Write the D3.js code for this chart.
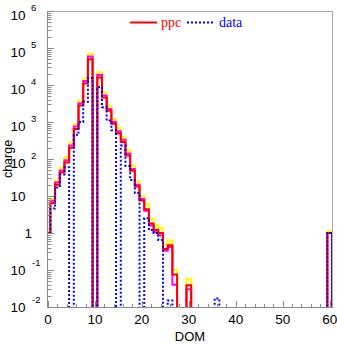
<!DOCTYPE html>
<html><head><meta charset="utf-8">
<script src="https://cdn.jsdelivr.net/npm/d3@7"></script>
<style>html,body{margin:0;padding:0;background:#fff;}svg{display:block;}</style>
</head><body>
<svg id="c" width="337" height="344"></svg>
<script>
// DOM bins 0..60 (bin i spans i-0.5 .. i+0.5); 0 = empty bin
const doms = d3.range(0, 61);
const ppcUpper = [1.1,8.5,26,58,110,270,880,3800,15000,70000,0,22000,6300,2700,1200,680,390,170,65,25,10,6,2.4,1.6,1.35,0.5,0.62,0.1,0,0,0.058,0,0,0,0,0,0,0,0,0,0,0,0,0,0,0,0,0,0,0,0,0,0,0,0,0,0,0,0,0,1.1];
const ppcAlt   = [1.0,7.4,23,49,92,230,750,3200,12800,59000,0,18500,5200,2250,1000,560,330,140,54,20,8.3,4.0,1.6,1.05,0.85,0.33,0.42,0.04,0,0,0.03,0,0,0,0,0,0,0,0,0,0,0,0,0,0,0,0,0,0,0,0,0,0,0,0,0,0,0,0,0,1.0];
const ppc      = [1.0,6.5,20,43,80,200,650,2800,11000,50000,0,16000,4600,2000,900,500,290,125,48,18,7.5,4.4,1.8,1.2,1.0,0.37,0.47,0.075,0,0,0.039,0,0,0,0,0,0,0,0,0,0,0,0,0,0,0,0,0,0,0,0,0,0,0,0,0,0,0,0,0,1.0];
const data     = [1.0,4.6,17,38,60,0,450,1000,3500,15500,0,8800,2500,1100,600,0,230,65,27,12,0,2.5,1.2,1.0,0.65,0,0.015,0,0,0,0,0,0,0,0,0,0.017,0,0,0,0,0,0,0,0,0,0,0,0,0,0,0,0,0,0,0,0,0,0,0,1.0];
const xTicks = [0,10,20,30,40,50,60];
const yExps = [-2,-1,0,1,2,3,4,5,6];

const svg = d3.select("#c");
const L = 48, R = 332, T = 11, B = 307;
const x = d3.scaleLinear().domain([0, 60.5]).range([L, R]);
const y = d3.scaleLog().domain([1e-2, 1e6]).range([B, T]);
const FLOOR = 1e-4;

svg.append("defs").append("clipPath").attr("id","clip")
  .append("rect").attr("x",L).attr("y",T).attr("width",R-L).attr("height",B-T);

function stepPath(vals){
  const p = d3.path();
  const yv = v => y(v > 0 ? v : FLOOR);
  p.moveTo(x(doms[0]-0.5), yv(FLOOR));
  doms.forEach((d,i)=>{
    p.lineTo(x(d-0.5), yv(vals[i]));
    p.lineTo(x(d+0.5), yv(vals[i]));
  });
  p.lineTo(x(doms[doms.length-1]+0.5), yv(FLOOR));
  return p.toString();
}

const g = svg.append("g").attr("clip-path","url(#clip)");
g.append("path").attr("d", stepPath(ppcUpper)).attr("fill","none").attr("stroke","#ffff00").attr("stroke-width",2.2);
g.append("path").attr("d", stepPath(ppcAlt)).attr("fill","none").attr("stroke","#ff00ff").attr("stroke-width",2);
g.append("path").attr("d", stepPath(ppc)).attr("fill","none").attr("stroke","#ff0000").attr("stroke-width",2);
g.append("path").attr("d", stepPath(data)).attr("fill","none").attr("stroke","#0000ff").attr("stroke-width",2).attr("stroke-dasharray","2,2");

// frame
const ax = "#8a8a8a";
svg.append("line").attr("x1",L).attr("x2",R).attr("y1",T+0.5).attr("y2",T+0.5).attr("stroke","#aaa");
svg.append("line").attr("x1",R+0.5).attr("x2",R+0.5).attr("y1",T).attr("y2",B).attr("stroke","#aaa");
svg.append("line").attr("x1",L-0.5).attr("x2",L-0.5).attr("y1",T).attr("y2",B+0.5).attr("stroke",ax);
svg.append("line").attr("x1",L-0.5).attr("x2",R+1).attr("y1",B+0.5).attr("y2",B+0.5).attr("stroke",ax);

// x ticks
const xMinor = d3.range(0, 61, 2);
xMinor.forEach(v=>{
  const major = v % 10 === 0;
  svg.append("line").attr("x1",Math.round(x(v))+0.5).attr("x2",Math.round(x(v))+0.5)
    .attr("y1",B).attr("y2",B-(major?6:3)).attr("stroke",ax);
});
svg.append("g").selectAll("text").data(xTicks).join("text")
  .attr("x",d=>x(d)).attr("y",324).attr("text-anchor","middle")
  .attr("font-family","Liberation Sans, Arial, sans-serif").attr("font-size",13.5).attr("fill","#000")
  .text(d=>d);

// y ticks
yExps.forEach(e=>{
  const yy = Math.round(y(Math.pow(10,e)))+0.5;
  svg.append("line").attr("x1",L).attr("x2",L+6).attr("y1",yy).attr("y2",yy).attr("stroke",ax);
  if (e < 6) for (let k=2;k<=9;k++){
    const ym = Math.round(y(k*Math.pow(10,e)))+0.5;
    svg.append("line").attr("x1",L).attr("x2",L+3.5).attr("y1",ym).attr("y2",ym).attr("stroke",ax);
  }
});
const yl = svg.append("g").attr("font-family","Liberation Sans, Arial, sans-serif").attr("fill","#000");
yExps.forEach(e=>{
  const yy = y(Math.pow(10,e));
  if (e === 0) {
    yl.append("text").attr("x",32).attr("y",yy+5).attr("text-anchor","end").attr("font-size",13.5).text("1");
  } else if (e === 1) {
    yl.append("text").attr("x",25.5).attr("y",yy+4.5).attr("text-anchor","end").attr("font-size",13.5).text("10");
  } else {
    const dy = e > 0 ? 8.5 : 5;
    yl.append("text").attr("x",25.5).attr("y",yy+dy).attr("text-anchor","end").attr("font-size",13.5).text("10");
    yl.append("text").attr("x",e>0?31:32).attr("y",yy+dy-9).attr("font-size",9.5).text(e);
  }
});

// axis titles
svg.append("text").attr("x",(L+R)/2).attr("y",341).attr("text-anchor","middle")
  .attr("font-family","Liberation Sans, Arial, sans-serif").attr("font-size",13).text("DOM");
svg.append("text").attr("transform",`translate(11.5,${(T+B)/2}) rotate(-90)`).attr("text-anchor","middle")
  .attr("font-family","Liberation Sans, Arial, sans-serif").attr("font-size",12.5).text("charge");

// legend
const lg = svg.append("g").attr("font-family","Liberation Serif, Times New Roman, serif").attr("font-size",14);
lg.append("line").attr("x1",130).attr("x2",157).attr("y1",22.5).attr("y2",22.5).attr("stroke","#ff0000").attr("stroke-width",2);
lg.append("text").attr("x",161).attr("y",27).attr("fill","#ff0000").text("ppc");
lg.append("line").attr("x1",187).attr("x2",214).attr("y1",22.5).attr("y2",22.5).attr("stroke","#0000ff").attr("stroke-width",2).attr("stroke-dasharray","2,2");
lg.append("text").attr("x",219).attr("y",27).attr("fill","#0000ff").text("data");
</script>
</body></html>
